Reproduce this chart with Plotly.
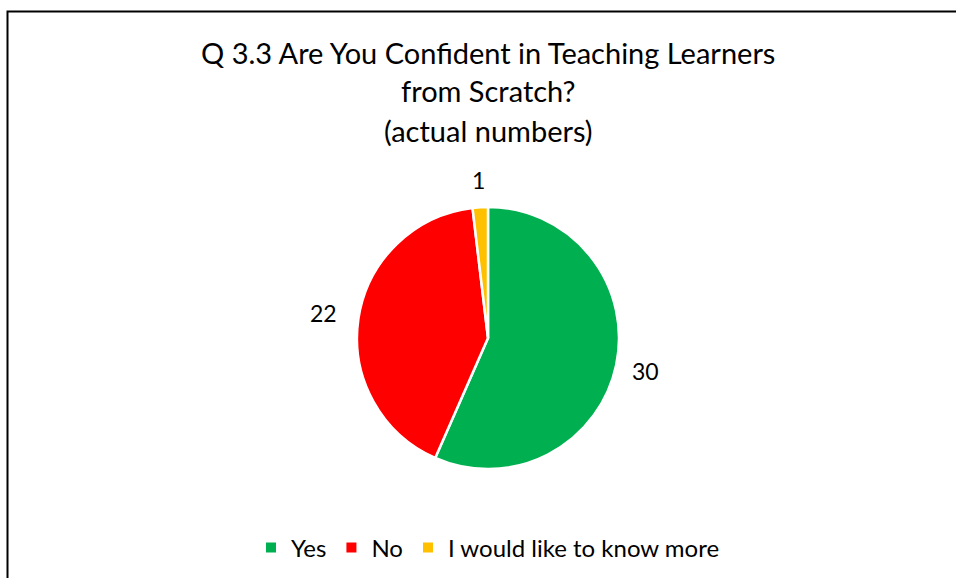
import numpy as np
import plotly.graph_objects as go

categories = ["Yes", "No", "I would like to know more"]
values = [30, 22, 1]
colors = ["#00B050", "#FF0000", "#FFC000"]
title_lines = ["Q 3.3 Are You Confident in Teaching Learners", "from Scratch?", "(actual numbers)"]

W, H = 956, 578
FONT = "Lato, Open Sans, sans-serif"
cx, cy, r = 488, 338, 131
LABEL_SIZE = 23

fig = go.Figure(go.Pie(
    labels=categories,
    values=values,
    marker=dict(colors=colors, line=dict(color="white", width=2.5)),
    sort=False,
    direction="clockwise",
    rotation=0,
    textinfo="none",
    domain=dict(x=[(cx - r) / W, (cx + r) / W], y=[(H - cy - r) / H, (H - cy + r) / H]),
    hoverinfo="label+value",
))

# data labels placed outside each slice at its mid-angle (computed from the values)
vals = np.array(values, dtype=float)
ends = np.cumsum(vals) / vals.sum() * 2 * np.pi
mids = ends - vals / vals.sum() * np.pi
annotations = []
for v, th in zip(values, mids):
    s, c = np.sin(th), np.cos(th)
    hw = len(str(v)) * 0.55 * LABEL_SIZE / 2
    hh = LABEL_SIZE * 0.5
    gap = 15 + 6 * max(0.0, -s)
    d = r + gap + abs(s) * hw + abs(c) * hh
    px, py = cx + d * s, cy - d * c
    annotations.append(dict(text=str(v), x=px / W, y=1 - py / H, xref="paper", yref="paper",
                            showarrow=False, xanchor="center", yanchor="middle",
                            font=dict(family=FONT, size=LABEL_SIZE, color="#000000")))

title_y = [52, 91, 130]
for t, yy in zip(title_lines, title_y):
    annotations.append(dict(text=t, x=cx / W, y=1 - yy / H, xref="paper", yref="paper", showarrow=False,
                            xanchor="center", yanchor="middle",
                            font=dict(family=FONT, size=29, color="#000000")))

fig.update_layout(
    width=W, height=H,
    margin=dict(l=0, r=0, t=0, b=0),
    paper_bgcolor="white",
    plot_bgcolor="white",
    annotations=annotations,
    showlegend=True,
    legend=dict(orientation="h", x=488 / W, xanchor="center", y=1 - 548 / H, yanchor="middle",
                font=dict(family=FONT, size=24, color="#000000"), itemsizing="constant",
                traceorder="normal"),
    shapes=[dict(type="rect", xref="paper", yref="paper",
                 x0=7.5 / W, x1=1.05, y0=-0.05, y1=1 - 11.5 / H,
                 line=dict(color="#000000", width=2), fillcolor="rgba(0,0,0,0)", layer="above")],
)

fig.write_html("out.html", config={"displayModeBar": False},
               post_script="document.body.style.margin='0';document.body.style.overflow='hidden';")
